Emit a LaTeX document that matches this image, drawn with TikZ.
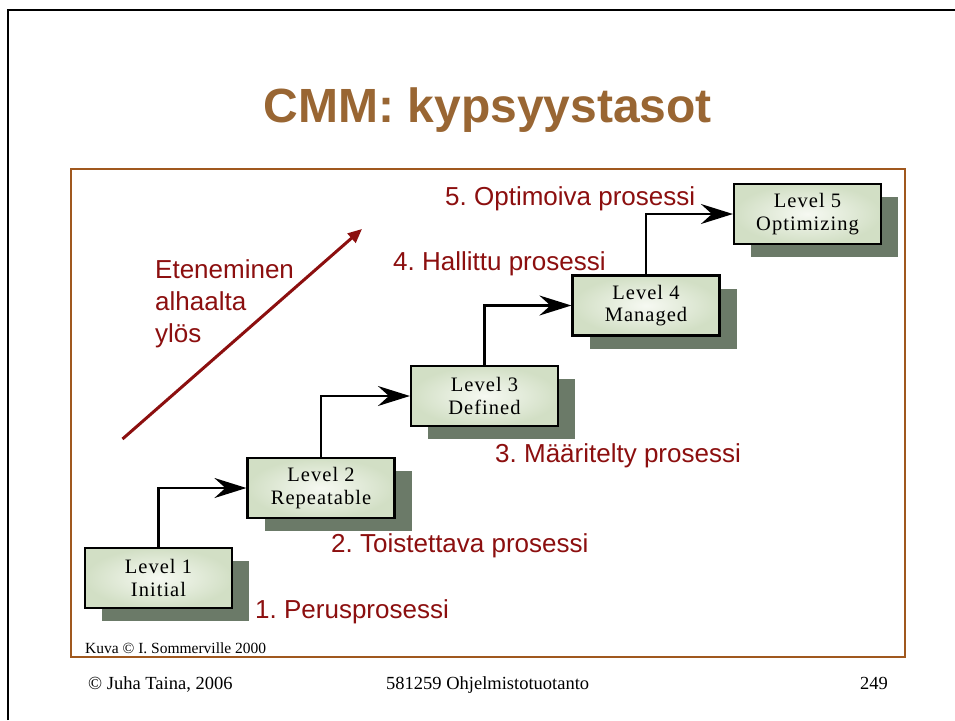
\documentclass[tikz,border=0pt]{standalone}
\usepackage{fontspec}
\setmainfont{Liberation Serif}
\newfontfamily\arialfont{Liberation Sans}
\newfontfamily\boxfont[LetterSpace=5]{Liberation Serif}
\usetikzlibrary{arrows.meta,shadows}
\frenchspacing

\definecolor{titlebrown}{HTML}{996633}
\definecolor{framebrown}{HTML}{A0581E}
\definecolor{labelred}{HTML}{8C0F0F}
\definecolor{shadowgreen}{RGB}{107,122,104}
\definecolor{boxinner}{HTML}{F6F9F2}
\definecolor{boxouter}{HTML}{D2DFC5}

\tikzset{
  levelbox/.style={draw=black, line width=2.2pt, rectangle,
    inner color=boxinner, outer color=boxouter,
    minimum width=147pt, minimum height=60pt, align=center,
    font=\boxfont\fontsize{20.5}{22.5}\selectfont,
    general shadow={fill=shadowgreen, shadow xshift=17pt, shadow yshift=-13pt}},
  steplabel/.style={anchor=base west, text=labelred, inner sep=0pt,
    font=\arialfont\fontsize{26}{30}\selectfont},
  stairarrow/.style={draw=black, line width=2.2pt,
    -{Stealth[length=32pt,width=20pt,inset=11pt]}},
  footnote/.style={anchor=base west, inner sep=0pt}
}

\begin{document}
\begin{tikzpicture}[x=1pt,y=-1pt]
  \useasboundingbox (0,0) rectangle (955,720);
  \fill[white] (0,0) rectangle (955,720);

  % slide edge
  \draw[line width=2.2pt] (8,720) -- (8,10) -- (955,10);

  % title
  \node[text=titlebrown, font=\arialfont\bfseries\fontsize{48}{56}\selectfont,
        anchor=base, inner sep=0pt] (title) at (488,122) {CMM: kypsyystasot};

  % figure frame
  \draw[framebrown, line width=2.3pt] (71,169) rectangle (905,657);

  % maturity levels
  \node[levelbox] (L1) at (158.5,578) {Level 1\\Initial};
  \node[levelbox] (L2) at (321,488) {Level 2\\Repeatable};
  \node[levelbox] (L3) at (484.5,396) {Level 3\\Defined};
  \node[levelbox] (L4) at (646,305.5) {Level 4\\Managed};
  \node[levelbox] (L5) at (807.5,214) {Level 5\\Optimizing};

  % stair connectors
  \draw[stairarrow] (L1.north) |- (L2.west);
  \draw[stairarrow] (L2.north) |- (L3.west);
  \draw[stairarrow] (L3.north) |- (L4.west);
  \draw[stairarrow] (L4.north) |- (L5.west);

  % step labels
  \node[steplabel] (s5) at (445,205) {5. Optimoiva prosessi};
  \node[steplabel] (s4) at (393,270) {4. Hallittu prosessi};
  \node[steplabel] (s3) at (495,462) {3. Määritelty prosessi};
  \node[steplabel] (s2) at (331,552) {2. Toistettava prosessi};
  \node[steplabel] (s1) at (255,618) {1. Perusprosessi};

  % progress arrow
  \coordinate (progstart) at (122.5,439);
  \coordinate (progend) at (362,229);
  \draw[labelred, line width=3pt, -{Triangle[length=14pt,width=12pt]}] (progstart) -- (progend);
  \node[steplabel] (prog1) at (155,278) {Eteneminen};
  \node[steplabel] (prog2) at (155,310) {alhaalta};
  \node[steplabel] (prog3) at (155,342) {ylös};

  % credits and footer
  \node[footnote, font=\fontsize{15.5}{18}\selectfont] (credit) at (85,653) {Kuva © I. Sommerville 2000};
  \node[footnote, font=\fontsize{18.5}{22}\selectfont] (author) at (88,689) {© Juha Taina, 2006};
  \node[footnote, font=\fontsize{18.5}{22}\selectfont] (course) at (386,689) {581259 Ohjelmistotuotanto};
  \node[footnote, font=\fontsize{18.5}{22}\selectfont] (page) at (860,689) {249};
\end{tikzpicture}
\end{document}
